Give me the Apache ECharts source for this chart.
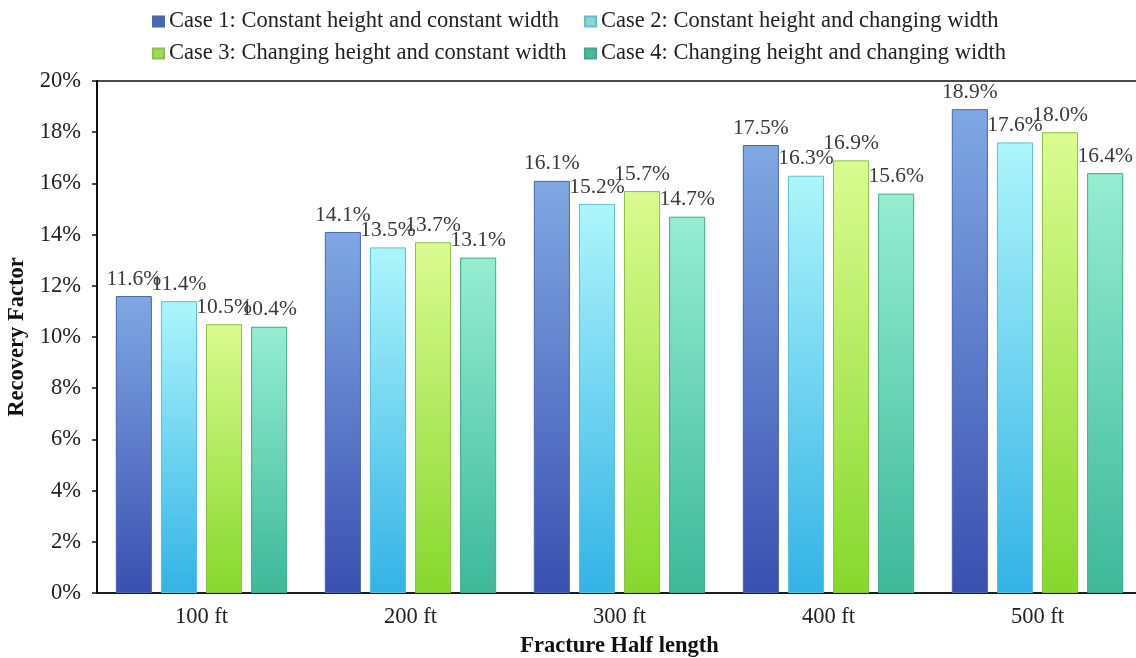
<!DOCTYPE html>
<html>
<head>
<meta charset="utf-8">
<script src="https://cdn.jsdelivr.net/npm/echarts@6/dist/echarts.min.js"></script>
<style>
  html, body { margin: 0; padding: 0; background: #fff; }
  #chart { width: 1136px; height: 658px; }
</style>
</head>
<body>
<div id="chart"></div>
<script>
// Fracture half-length groups and recovery factor (%) per case
const categories = ['100 ft', '200 ft', '300 ft', '400 ft', '500 ft'];
const seriesNames = [
  'Case 1: Constant height and constant width',
  'Case 2: Constant height and changing width',
  'Case 3: Changing height and constant width',
  'Case 4: Changing height and changing width'
];
const case1 = [11.6, 14.1, 16.1, 17.5, 18.9];
const case2 = [11.4, 13.5, 15.2, 16.3, 17.6];
const case3 = [10.5, 13.7, 15.7, 16.9, 18.0];
const case4 = [10.4, 13.1, 14.7, 15.6, 16.4];
const values = [case1, case2, case3, case4];

// top / bottom gradient stops, edge colour and legend swatch per case
const palette = [
  { top: '#80a8e3', bottom: '#3a4fb0', edge: '#4a66b4', swatch: '#4b68b7' },
  { top: '#adf5fb', bottom: '#33b3e6', edge: '#5cc0d8', swatch: '#8fd6d0' },
  { top: '#dafb90', bottom: '#86d82c', edge: '#8cc048', swatch: '#a2d85a' },
  { top: '#96edd2', bottom: '#3cb999', edge: '#3fa98c', swatch: '#4db898' }
];

const serif = '"Liberation Serif", "Times New Roman", serif';

const chart = echarts.init(document.getElementById('chart'));

const series = values.map((data, i) => ({
  name: seriesNames[i],
  type: 'bar',
  data: data,
  barGap: '25%',
  barCategoryGap: '18%',
  itemStyle: {
    color: new echarts.graphic.LinearGradient(0, 0, 0, 1, [
      { offset: 0, color: palette[i].top },
      { offset: 1, color: palette[i].bottom }
    ]),
    borderColor: palette[i].edge,
    borderWidth: 1
  },
  label: {
    show: true,
    position: 'top',
    distance: 6,
    fontFamily: serif,
    fontSize: 21.5,
    color: '#3a3a3a',
    formatter: p => p.value.toFixed(1) + '%'
  }
}));

const legendText = { fontFamily: serif, fontSize: 22.5, color: '#222' };
// one legend block per case, laid out as a 2 x 2 grid
const legendPos = [[147, 5], [579, 5], [147, 37], [579, 37]];
const legends = seriesNames.map((name, i) => ({
  left: legendPos[i][0], top: legendPos[i][1],
  itemWidth: 11, itemHeight: 10, icon: 'rect',
  textStyle: legendText,
  data: [{ name: name, itemStyle: { color: palette[i].swatch } }]
}));

chart.setOption({
  animation: false,
  backgroundColor: '#fff',
  legend: legends,
  grid: {
    left: 97, right: -6, top: 81, bottom: 65,
    outerBoundsMode: 'none',
    show: true, borderColor: '#111', borderWidth: 1.5
  },
  xAxis: {
    type: 'category',
    data: categories,
    name: 'Fracture Half length',
    nameLocation: 'middle',
    nameGap: 42,
    nameTextStyle: { fontFamily: serif, fontSize: 22.5, fontWeight: 'bold', color: '#111' },
    axisLine: { lineStyle: { color: '#111', width: 1.5 } },
    axisTick: { show: false },
    axisLabel: { fontFamily: serif, fontSize: 22.5, color: '#222', margin: 13 }
  },
  yAxis: {
    type: 'value',
    min: 0, max: 20, interval: 2,
    name: 'Recovery Factor',
    nameLocation: 'middle',
    nameGap: 65,
    nameTextStyle: { fontFamily: serif, fontSize: 22.5, fontWeight: 'bold', color: '#111' },
    axisLine: { show: true, lineStyle: { color: '#111', width: 2 } },
    axisTick: { show: true, inside: false, length: 5, lineStyle: { color: '#111', width: 1.5 } },
    splitLine: { show: false },
    axisLabel: { fontFamily: serif, fontSize: 22.5, color: '#222', margin: 16, formatter: '{value}%' }
  },
  series: series
});
</script>
</body>
</html>
